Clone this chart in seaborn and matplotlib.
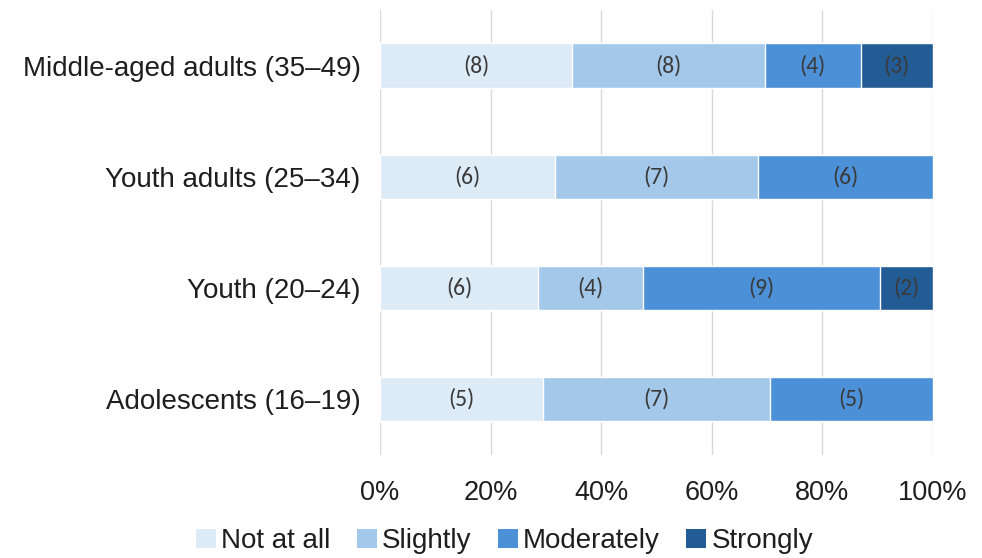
import numpy as np
import pandas as pd
import matplotlib
matplotlib.use("Agg")
import matplotlib.pyplot as plt
import seaborn as sns
from matplotlib.patches import Patch

# Age groups (top to bottom) and respondent counts per response level
groups = ["Middle-aged adults (35–49)", "Youth adults (25–34)",
          "Youth (20–24)", "Adolescents (16–19)"]
levels = ["Not at all", "Slightly", "Moderately", "Strongly"]
not_at_all = [8, 6, 6, 5]
slightly = [8, 7, 4, 7]
moderately = [4, 6, 9, 5]
strongly = [3, 0, 2, 0]
colors = ["#DDEBF7", "#A4C8EA", "#4C90D8", "#235C94"]
ticks = [0, 20, 40, 60, 80, 100]

sns.set_theme(style="white")
plt.rcParams["font.family"] = ["Liberation Sans", "DejaVu Sans"]

counts = pd.DataFrame({"Not at all": not_at_all, "Slightly": slightly,
                       "Moderately": moderately, "Strongly": strongly},
                      index=groups)
share = counts.div(counts.sum(axis=1), axis=0) * 100
cum = share.cumsum(axis=1)

fig = plt.figure(figsize=(9.82, 5.58), dpi=100)
ax = fig.add_axes([0.387, 0.185, 0.563, 0.797])

# Stacked bars: draw cumulative totals from the widest layer down
for lvl, col in reversed(list(zip(levels, colors))):
    df = pd.DataFrame({"group": groups, "value": cum[lvl].values})
    sns.barplot(data=df, x="value", y="group", orient="h", color=col,
                width=0.4, saturation=1, ax=ax, order=groups)

# Count labels centred in each non-empty segment
for i, g in enumerate(groups):
    for lvl in levels:
        n = counts.loc[g, lvl]
        if n == 0:
            continue
        xc = cum.loc[g, lvl] - share.loc[g, lvl] / 2
        ax.text(xc, i, f"({n})", ha="center", va="center", fontsize=17,
                color="#3A3A3A", family=["Carlito", "Liberation Sans", "DejaVu Sans"])

ax.set_xlim(0, 100)
ax.set_ylim(3.5, -0.5)
ax.set_xticks(ticks)
ax.set_xticklabels([f"{t}%" for t in ticks], fontsize=19.5, color="#1E1E1E")
ax.tick_params(axis="y", labelsize=20, labelcolor="#1E1E1E", length=0, pad=14)
ax.tick_params(axis="x", length=0, pad=18)
ax.set_xlabel("")
ax.set_ylabel("")
ax.grid(axis="x", color="#D9D9D9", linewidth=1.0)
ax.set_axisbelow(True)
for s in ax.spines.values():
    s.set_visible(False)

handles = [Patch(facecolor=c, edgecolor="none", label=l) for l, c in zip(levels, colors)]
fig.legend(handles=handles, loc="center", bbox_to_anchor=(0.514, 0.03), ncol=4,
           frameon=False, fontsize=20, handlelength=0.7, handleheight=0.7,
           handletextpad=0.2, columnspacing=0.95, labelcolor="#1E1E1E")

fig.savefig("out.png", dpi=100)
